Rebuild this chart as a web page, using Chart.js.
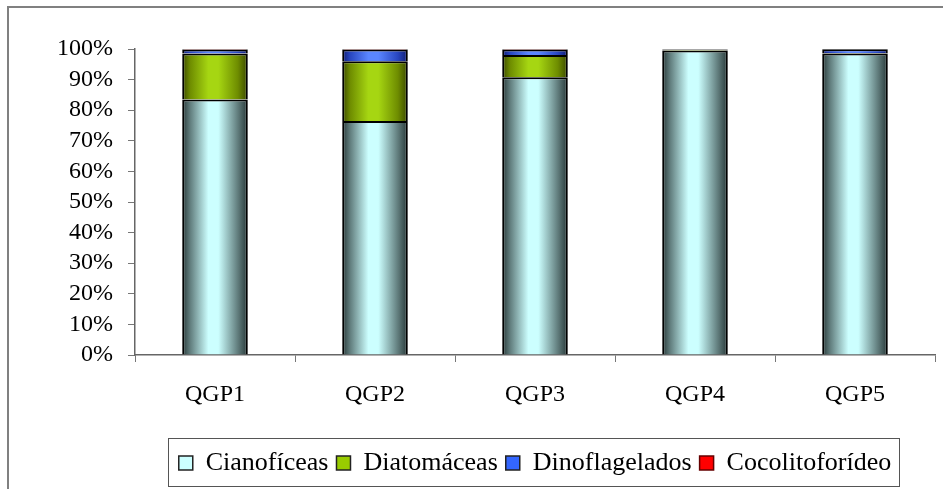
<!DOCTYPE html>
<html>
<head>
<meta charset="utf-8">
<script src="https://cdn.jsdelivr.net/npm/chart.js@4.4.1/dist/chart.umd.min.js"></script>
<style>
  html, body { margin: 0; padding: 0; background: #fff; }
  #wrap { width: 943px; height: 489px; position: relative; }
</style>
</head>
<body>
<div id="wrap"><canvas id="myChart" width="943" height="489"></canvas></div>
<script>
const sites = ['QGP1', 'QGP2', 'QGP3', 'QGP4', 'QGP5'];
const cianoficeas = [83.5, 76.5, 90.8, 99.5, 98.5];
const diatomaceas = [15.0, 19.5, 7.2, 0.3, 0.2];
const dinoflagelados = [1.3, 3.8, 1.8, 0.1, 1.2];
const cocolitoforideo = [0.2, 0.2, 0.2, 0.1, 0.1];
const yTicks = [0, 10, 20, 30, 40, 50, 60, 70, 80, 90, 100];

const serif = '"Liberation Serif", serif';
const barShare = 0.41;

// horizontal shading across each bar: dark edges, light middle
function shaded(edge, mid, light, flat) {
    return function (c) {
        const chart = c.chart;
        const xs = chart.scales && chart.scales.x;
        if (!chart.chartArea || !xs || c.dataIndex === undefined) return flat;
        const cx = xs.getPixelForValue(c.dataIndex);
        const w = xs.width / sites.length * barShare;
        const g = chart.ctx.createLinearGradient(cx - w / 2, 0, cx + w / 2, 0);
        g.addColorStop(0, edge);
        g.addColorStop(0.12, mid);
        g.addColorStop(0.4, light);
        g.addColorStop(0.55, light);
        g.addColorStop(0.85, mid);
        g.addColorStop(1, edge);
        return g;
    };
}

const legendColors = ['#ccffff', '#99cc00', '#3366ff', '#ff0000'];
const legendBorders = ['#222', '#222', '#222', '#600'];

// grey outer frame, legend box, and legend centred under the plot
const frames = {
    id: 'frames',
    beforeDraw(chart) {
        chart.legend.left = chart.chartArea.left;
        chart.legend.right = chart.chartArea.right;
    },
    afterDraw(chart) {
        const ctx = chart.ctx;
        ctx.save();
        ctx.strokeStyle = '#808080';
        ctx.lineWidth = 2;
        ctx.strokeRect(8, 7, 1000, 1000);
        ctx.lineWidth = 1;
        ctx.strokeStyle = '#555';
        ctx.strokeRect(168.5, 438.5, 731, 48);
        ctx.restore();
    }
};

function draw() {
    new Chart(document.getElementById('myChart'), {
        type: 'bar',
        data: {
            labels: sites,
            datasets: [{
                label: 'Cianofíceas',
                data: cianoficeas,
                backgroundColor: shaded('#283838', '#607c7c', '#ccffff', '#ccffff')
            }, {
                label: 'Diatomáceas',
                data: diatomaceas,
                backgroundColor: shaded('#3a4800', '#6e8c00', '#a6d612', '#99cc00')
            }, {
                label: 'Dinoflagelados',
                data: dinoflagelados,
                backgroundColor: shaded('#101c70', '#2846c0', '#5a86ff', '#3366ff')
            }, {
                label: 'Cocolitoforídeo',
                data: cocolitoforideo,
                backgroundColor: '#ff0000'
            }]
        },
        plugins: [frames],
        options: {
            responsive: false,
            animation: false,
            layout: { padding: { left: 0, right: 8, top: 49, bottom: 3 } },
            datasets: {
                bar: {
                    borderColor: '#000',
                    borderWidth: 2,
                    categoryPercentage: barShare,
                    barPercentage: 1
                }
            },
            scales: {
                x: {
                    stacked: true,
                    grid: { offset: true, drawOnChartArea: false, tickLength: 7, color: '#777' },
                    border: { color: '#666', width: 1.5 },
                    ticks: { color: '#000', font: { family: serif, size: 24 }, padding: 18 },
                    afterFit(scale) { scale.height = 87; }
                },
                y: {
                    stacked: true,
                    min: 0,
                    max: 100,
                    afterBuildTicks(scale) { scale.ticks = yTicks.map(v => ({ value: v })); },
                    grid: { drawOnChartArea: false, tickLength: 7, color: '#777' },
                    border: { color: '#666', width: 1.5 },
                    ticks: {
                        color: '#000',
                        font: { family: serif, size: 24, lineHeight: 1 },
                        padding: 15,
                        autoSkip: false,
                        callback: v => v + '%'
                    },
                    afterFit(scale) { scale.width = 135; }
                }
            },
            plugins: {
                tooltip: { enabled: false },
                legend: {
                    position: 'bottom',
                    labels: {
                        color: '#000',
                        font: { family: serif, size: 26 },
                        boxWidth: 14,
                        boxHeight: 14,
                        padding: 8,
                        generateLabels: chart => chart.data.datasets.map((ds, i) => ({
                            text: ds.label,
                            fillStyle: legendColors[i],
                            strokeStyle: legendBorders[i],
                            lineWidth: 1.5,
                            datasetIndex: i
                        }))
                    }
                }
            }
        }
    });
}

// make sure the serif face is ready before the canvas text is drawn
Promise.all([
    document.fonts.load('24px "Liberation Serif"'),
    document.fonts.load('26px "Liberation Serif"')
]).then(draw, draw);
</script>
</body>
</html>
